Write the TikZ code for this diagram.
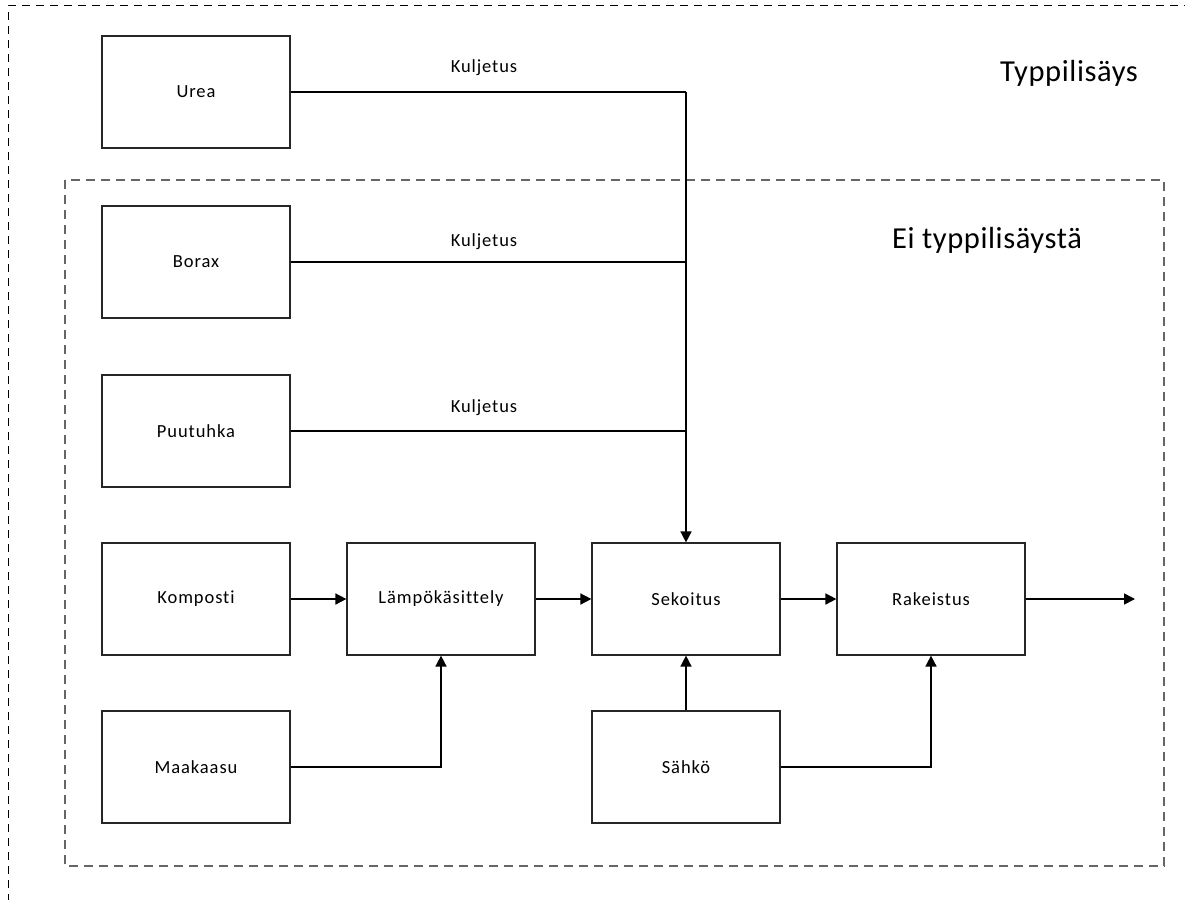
\documentclass[tikz,border=0pt]{standalone}
\usepackage{fontspec}
\setmainfont{Carlito}
\newfontfamily\lsfont[LetterSpace=5,Ligatures=NoCommon]{Carlito}
\newfontfamily\lbfont[LetterSpace=2,Ligatures=NoCommon]{Carlito}
\usetikzlibrary{arrows.meta}
\begin{document}
\begin{tikzpicture}[x=1pt,y=-1pt,
  boxnode/.style={draw=black!85,line width=1.2pt,minimum width=188pt,minimum height=112pt,inner sep=0pt,font=\lsfont\fontsize{18.5}{22}\selectfont},
  conn/.style={draw=black,line width=1.6pt},
  arr/.style={conn,-{Triangle[length=11pt,width=11pt]}},
  lbl/.style={font=\lsfont\fontsize{18.5}{22}\selectfont,inner sep=0pt},
  biglbl/.style={font=\lbfont\fontsize{30.5}{36}\selectfont,inner sep=0pt}]
\useasboundingbox (0,0) rectangle (1185,899);
\draw[black,line width=1pt,dash pattern=on 8pt off 6pt] (8,1000) -- (8,6) -- (1300,6);
\draw[black!60,line width=1.2pt,dash pattern=on 9pt off 6pt] (65,180) rectangle (1164,866);
\node[biglbl] (t1) at (1069,73) {Typpilisäys};
\node[biglbl] (t2) at (987,240) {Ei typpilisäystä};
\node[boxnode] (urea) at (196,92) {Urea};
\node[boxnode] (borax) at (196,262) {Borax};
\node[boxnode] (puu) at (196,431) {Puutuhka};
\node[boxnode] (komp) at (196,599) {Komposti};
\node[boxnode] (maa) at (196,767) {Maakaasu};
\node[boxnode] (lampo) at (441,599) {Lämpökäsittely};
\node[boxnode] (sek) at (686,599) {Sekoitus};
\node[boxnode] (rak) at (931,599) {Rakeistus};
\node[boxnode] (sah) at (686,767) {Sähkö};
\coordinate (top) at (686,92);
\coordinate (out) at (1135,599);
\draw[conn] (urea.east) -- (top);
\draw[arr] (top) -- (sek.north);
\draw[conn] (borax.east) -- (borax.east -| top);
\draw[conn] (puu.east) -- (puu.east -| top);
\node[lbl] (k1) at (484,68) {Kuljetus};
\node[lbl] (k2) at (484,242) {Kuljetus};
\node[lbl] (k3) at (484,408) {Kuljetus};
\draw[arr] (komp.east) -- (lampo.west);
\draw[arr] (lampo.east) -- (sek.west);
\draw[arr] (sek.east) -- (rak.west);
\draw[arr] (rak.east) -- (out);
\draw[arr] (maa.east) -| (lampo.south);
\draw[arr] (sah.north) -- (sek.south);
\draw[arr] (sah.east) -| (rak.south);
\end{tikzpicture}
\end{document}
